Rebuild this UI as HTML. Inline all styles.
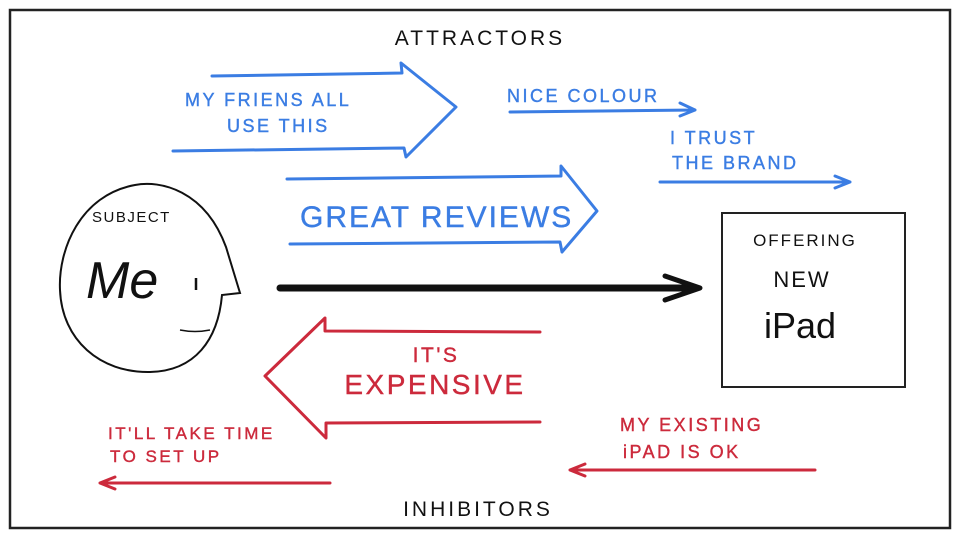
<!DOCTYPE html>
<html><head><meta charset="utf-8"><style>
html,body{margin:0;padding:0;background:#fff}
svg{display:block}
text{font-family:"Liberation Sans",sans-serif}
</style></head><body>
<svg width="960" height="540" viewBox="0 0 960 540" xmlns="http://www.w3.org/2000/svg">
<rect x="0" y="0" width="960" height="540" fill="#fff"/>
<rect x="10" y="10" width="940" height="518" fill="none" stroke="#222" stroke-width="2.5"/>
<g fill="#111" font-size="21" letter-spacing="3" text-anchor="middle">
<text x="480" y="45">ATTRACTORS</text>
<text x="478" y="516">INHIBITORS</text>
</g>
<!-- blue -->
<g fill="none" stroke="#3b7de3" stroke-width="3" stroke-linejoin="round" stroke-linecap="round">
<path d="M212,76 L402,73 L401,63 L456,107 L406,157 L404,148 L173,151"/>
<path d="M287,179 L561,176 L561,166 L597,211 L562,252 L560,242 L290,244"/>
<path d="M510,112 L695,110 M680,103 L695,110 L680,116"/>
<path d="M660,182 L850,182 M835,176 L850,182 L835,188"/>
</g>
<g fill="#3b7de3" font-size="18" letter-spacing="2.5" stroke="#3b7de3" stroke-width="0.4">
<text x="185" y="106">MY FRIENS ALL</text>
<text x="227" y="132">USE THIS</text>
<text x="507" y="102">NICE COLOUR</text>
<text x="670" y="144">I TRUST</text>
<text x="672" y="169">THE BRAND</text>
<text x="300" y="227" font-size="30" letter-spacing="2">GREAT REVIEWS</text>
</g>
<!-- black arrow -->
<g stroke="#111" fill="none" stroke-linecap="round" stroke-linejoin="round">
<path d="M280,288 L692,288" stroke-width="7"/>
<path d="M665,276 L700,288 L665,300" stroke-width="5"/>
</g>
<!-- subject head -->
<path d="M226,247 C205,190 160,180 135,185 C80,195 58,250 60,290 C62,340 100,373 150,372 C195,371 218,340 222,295 L240,293 Z" fill="none" stroke="#111" stroke-width="2"/>
<path d="M180,330 Q195,333 210,330" stroke="#111" stroke-width="1.5" fill="none"/>
<path d="M196,278 L196,290" stroke="#111" stroke-width="2.5"/>
<text x="92" y="222" font-size="15" letter-spacing="1.5" fill="#111">SUBJECT</text>
<text x="86" y="298" font-size="52" font-style="italic" font-family="Liberation Serif,serif" fill="#111">Me</text>
<!-- offering box -->
<rect x="722" y="213" width="183" height="174" fill="none" stroke="#222" stroke-width="2"/>
<g fill="#111" text-anchor="middle">
<text x="805" y="246" font-size="17" letter-spacing="2">OFFERING</text>
<text x="802" y="287" font-size="22" letter-spacing="2">NEW</text>
<text x="800" y="338" font-size="36">iPad</text>
</g>
<!-- red -->
<g fill="none" stroke="#cc2a3c" stroke-width="3" stroke-linejoin="round" stroke-linecap="round">
<path d="M540,332 L325,331 L325,318 L265,376 L326,438 L326,423 L540,422"/>
<path d="M330,483 L100,483 M115,477 L100,483 L115,489"/>
<path d="M815,470 L570,470 M585,464 L570,470 L585,476"/>
</g>
<g fill="#cc2a3c" letter-spacing="2.5" stroke="#cc2a3c" stroke-width="0.4">
<text x="436" y="362" font-size="21" text-anchor="middle">IT'S</text>
<text x="435" y="394" font-size="28" text-anchor="middle">EXPENSIVE</text>
<text x="108" y="439" font-size="17">IT'LL TAKE TIME</text>
<text x="110" y="462" font-size="17">TO SET UP</text>
<text x="620" y="431" font-size="18">MY EXISTING</text>
<text x="623" y="458" font-size="18">iPAD IS OK</text>
</g>
</svg>
</body></html>
